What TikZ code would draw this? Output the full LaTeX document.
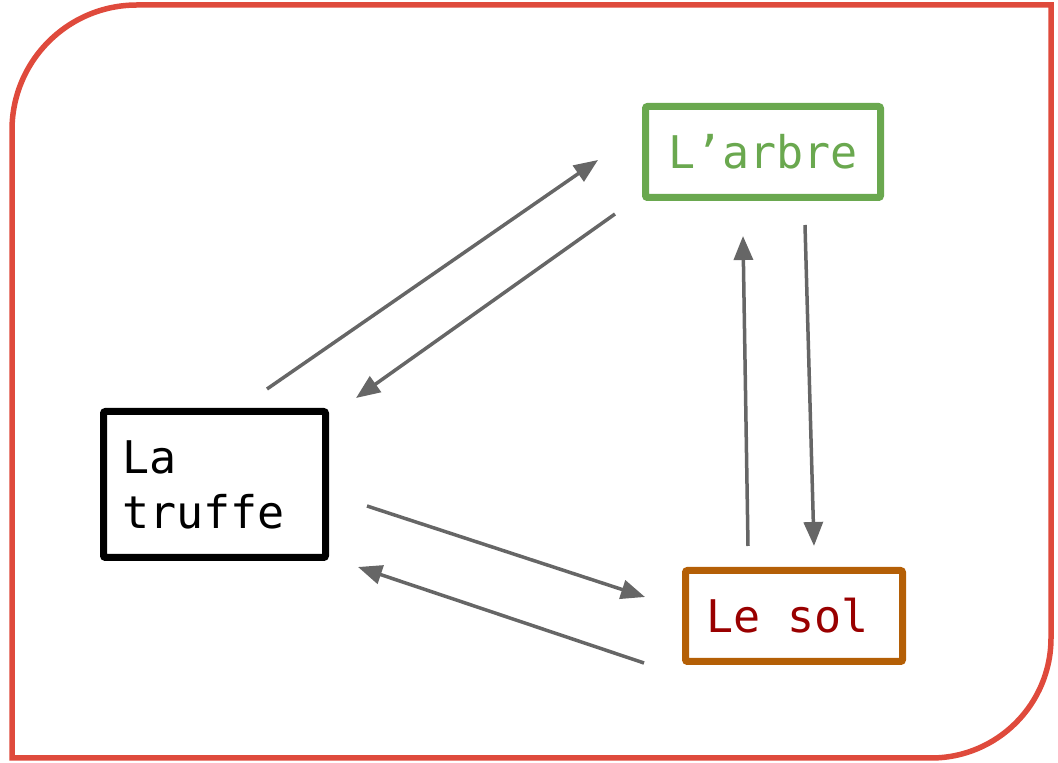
\documentclass[tikz,border=0pt]{standalone}
\usepackage{fontspec}
\setmonofont{DejaVu Sans Mono}
\usetikzlibrary{arrows.meta}

\definecolor{framered}{HTML}{DF4A3C}
\definecolor{treegreen}{HTML}{6AA84F}
\definecolor{soilbrown}{HTML}{B45F06}
\definecolor{soiltext}{HTML}{990000}
\definecolor{linkgray}{HTML}{666666}

\tikzset{
  x=1pt, y=1pt,
  frame/.style={draw=framered, line width=5.5pt},
  entity/.style={draw, line width=7pt, rounded corners=2pt, inner sep=0pt,
    font=\ttfamily\fontsize{45}{55}\selectfont},
  link/.style={draw=linkgray, line width=3.5pt,
    -{Triangle[length=24pt, width=19pt]}},
}

\begin{document}
\begin{tikzpicture}
  \useasboundingbox (0,0) rectangle (1058,763);

  % outer frame with two rounded corners
  \draw[frame] (12,5) -- (12,633) arc[start angle=180, end angle=90, radius=125]
    -- (1051,758) -- (1051,125) arc[start angle=0, end angle=-90, radius=120] -- cycle;

  % the three entities
  \node[entity, draw=black, minimum width=222pt, minimum height=146pt,
        text width=185pt, align=left] (truffe) at (214.5,278.5) {La\\truffe};
  \node[entity, draw=treegreen, text=treegreen, minimum width=235pt,
        minimum height=91pt] (arbre) at (763,611) {L’arbre};
  \node[entity, draw=soilbrown, text=soiltext, minimum width=217pt,
        minimum height=91pt, text width=176pt, align=left] (sol) at (794,147)
        {Le\phantom{s}sol};

  % arrow end points
  \coordinate (ta1) at (267,374);  \coordinate (ta2) at (598,603);
  \coordinate (at1) at (615,549);  \coordinate (at2) at (356,365);
  \coordinate (sa1) at (748,217);  \coordinate (sa2) at (743,527);
  \coordinate (as1) at (805,538);  \coordinate (as2) at (814,217);
  \coordinate (ts1) at (367,257);  \coordinate (ts2) at (645,166);
  \coordinate (st1) at (644,100);  \coordinate (st2) at (358,196);

  % exchanges between the entities
  \draw[link] (ta1) -- (ta2);
  \draw[link] (at1) -- (at2);
  \draw[link] (sa1) -- (sa2);
  \draw[link] (as1) -- (as2);
  \draw[link] (ts1) -- (ts2);
  \draw[link] (st1) -- (st2);
\end{tikzpicture}
\end{document}
